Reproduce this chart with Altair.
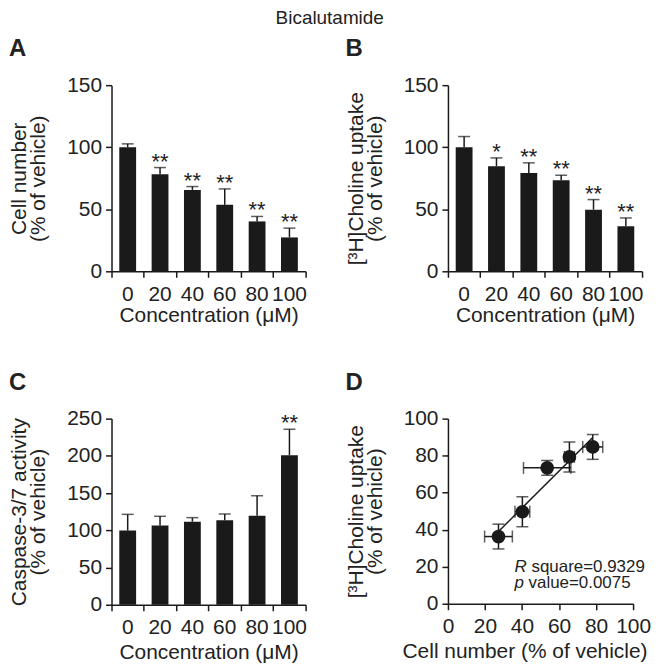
import altair as alt
import pandas as pd

# ---- data ----
conc = ["0", "20", "40", "60", "80", "100"]
cell_mean = [100, 78.2, 65.6, 53.6, 40.2, 27.3]
cell_err = [2.7, 5.4, 2.7, 12.8, 4.0, 7.5]
cell_sig = ["", "**", "**", "**", "**", "**"]

chol_mean = [100, 84.7, 79.3, 73.4, 49.7, 36.3]
chol_err = [8.6, 6.7, 8.1, 4.0, 8.1, 6.7]
chol_sig = ["", "*", "**", "**", "**", "**"]

casp_mean = [99.6, 106.3, 111.6, 113.4, 119.6, 200.9]
casp_err = [21.8, 12.5, 5.4, 8.5, 26.8, 34.8]
casp_sig = ["", "", "", "", "", "**"]

# correlation (concentrations 20..100)
corr_x = cell_mean[1:]
corr_xerr = cell_err[1:]
corr_y = chol_mean[1:]
corr_yerr = chol_err[1:]

ann_x = [36, 36]
ann_y = [20, 11]
ann_lead = ["R", "p"]
ann_rest = ["square=0.9329", "value=0.0075"]

FONT = "Liberation Sans"
INK = "#1a1a1a"
FS = 21


def qaxis(values, **extra):
    return alt.Axis(values=values, labelOverlap=False, tickCount=len(values), **extra)


def letter_title(letter):
    return alt.TitleParams(letter, anchor="start", frame="bounds", fontSize=24,
                           fontWeight="bold", font=FONT, offset=13, color="#222")


def bar_panel(mean, err, sig, ymax, ystep, ytitle, letter, xtpad):
    df = pd.DataFrame({
        "conc": conc,
        "mean": mean,
        "hi": [m + e for m, e in zip(mean, err)],
        "sig": sig,
    })
    x = alt.X(
        "conc:N", sort=conc, title="Concentration (μM)",
        scale=alt.Scale(paddingInner=0, paddingOuter=0),
        axis=alt.Axis(labelAngle=0, bandPosition=1, tickExtra=True, labelOverlap=False,
                      titlePadding=xtpad),
    )
    yscale = alt.Scale(domain=[0, ymax], nice=False)
    yvals = list(range(0, ymax + 1, ystep))

    def Y(field):
        return alt.Y(field, scale=yscale, title=ytitle, axis=qaxis(yvals))

    base = alt.Chart(df).encode(x=x)
    bars = base.mark_bar(color=INK, width=alt.RelativeBandSize(0.52)).encode(y=Y("mean:Q"))
    rule = base.mark_rule(color=INK, strokeWidth=1.5).encode(y=Y("mean:Q"), y2="hi:Q")
    cap = base.mark_tick(color=INK, thickness=1.5, size=12, orient="horizontal").encode(y=Y("hi:Q"))
    stars = base.mark_text(baseline="alphabetic", dy=1, fontSize=22, font=FONT, color="#222").encode(
        y=Y("hi:Q"), text="sig:N"
    )
    return alt.layer(bars, rule, cap, stars).properties(
        width=195, height=187, title=letter_title(letter)
    )


pa = bar_panel(cell_mean, cell_err, cell_sig, 150, 50, ["Cell number", "(% of vehicle)"], "A", 0)
pb = bar_panel(chol_mean, chol_err, chol_sig, 150, 50, ["[³H]Choline uptake", "(% of vehicle)"], "B", 0)
pc = bar_panel(casp_mean, casp_err, casp_sig, 250, 50, ["Caspase-3/7 activity", "(% of vehicle)"], "C", 4)

dd = pd.DataFrame({"x": corr_x, "y": corr_y, "xe": corr_xerr, "ye": corr_yerr})
dvals = [0, 20, 40, 60, 80, 100]
xs = alt.Scale(domain=[0, 100], nice=False)
ys = alt.Scale(domain=[0, 100], nice=False)
XT = "Cell number (% of vehicle)"
YT = ["[³H]Choline uptake", "(% of vehicle)"]


def dx_(field):
    return alt.X(field, scale=xs, title=XT,
                 axis=qaxis(dvals, titlePadding=4, titleX=200, titleAlign="right"))


def dy_(field):
    return alt.Y(field, scale=ys, title=YT, axis=qaxis(dvals))


dbase = alt.Chart(dd).transform_calculate(
    xlo="datum.x - datum.xe", xhi="datum.x + datum.xe",
    ylo="datum.y - datum.ye", yhi="datum.y + datum.ye",
)
pts = dbase.mark_circle(size=190, color=INK, opacity=1).encode(x=dx_("x:Q"), y=dy_("y:Q"))
xerr = dbase.mark_rule(color=INK, strokeWidth=1.5).encode(x=dx_("xlo:Q"), x2="xhi:Q", y=dy_("y:Q"))
yerr = dbase.mark_rule(color=INK, strokeWidth=1.5).encode(y=dy_("ylo:Q"), y2="yhi:Q", x=dx_("x:Q"))
xcap_lo = dbase.mark_tick(color=INK, thickness=1.5, size=12, orient="vertical").encode(x=dx_("xlo:Q"), y=dy_("y:Q"))
xcap_hi = dbase.mark_tick(color=INK, thickness=1.5, size=12, orient="vertical").encode(x=dx_("xhi:Q"), y=dy_("y:Q"))
ycap_lo = dbase.mark_tick(color=INK, thickness=1.5, size=12, orient="horizontal").encode(x=dx_("x:Q"), y=dy_("ylo:Q"))
ycap_hi = dbase.mark_tick(color=INK, thickness=1.5, size=12, orient="horizontal").encode(x=dx_("x:Q"), y=dy_("yhi:Q"))
fit = alt.Chart(dd).transform_regression("x", "y").mark_line(color=INK, strokeWidth=1.5).encode(
    x=dx_("x:Q"), y=dy_("y:Q")
)
ann = pd.DataFrame({"x": ann_x, "y": ann_y, "lead": ann_lead, "rest": ann_rest})
lead = alt.Chart(ann).mark_text(align="left", baseline="middle", fontStyle="italic",
                                fontSize=17, font=FONT, color="#222").encode(
    x=dx_("x:Q"), y=dy_("y:Q"), text="lead:N")
rest1 = alt.Chart(ann).transform_filter("datum.lead == 'R'").mark_text(
    align="left", baseline="middle", fontSize=17, font=FONT, color="#222", dx=17
).encode(x=dx_("x:Q"), y=dy_("y:Q"), text="rest:N")
rest2 = alt.Chart(ann).transform_filter("datum.lead == 'p'").mark_text(
    align="left", baseline="middle", fontSize=17, font=FONT, color="#222", dx=14
).encode(x=dx_("x:Q"), y=dy_("y:Q"), text="rest:N")

pd_ = alt.layer(fit, xerr, yerr, xcap_lo, xcap_hi, ycap_lo, ycap_hi, pts, lead, rest1, rest2).properties(
    width=186, height=186, title=letter_title("D")
)

chart = alt.vconcat(
    alt.hconcat(pa, pb, spacing=38),
    alt.hconcat(pc, pd_, spacing=38),
    spacing=46,
).properties(
    title=alt.TitleParams("Bicalutamide", anchor="middle", fontSize=19, fontWeight="normal",
                          font=FONT, color="#222", offset=9),
    padding=0,
).configure_view(stroke=None).configure_axis(
    labelFont=FONT, titleFont=FONT, labelFontSize=FS, titleFontSize=FS,
    labelColor="#222", titleColor="#222", titleFontWeight="normal",
    domainColor=INK, tickColor=INK, domainWidth=1.5, tickWidth=1.5, tickSize=6,
    grid=False, labelPadding=4, titlePadding=4, labelOverlap=False, labelFlush=False,
).configure_axisY(titlePadding=18, titleLineHeight=19).configure_axisX(labelPadding=6)

chart.save("out.html", embed_options={"renderer": "svg", "actions": False})
